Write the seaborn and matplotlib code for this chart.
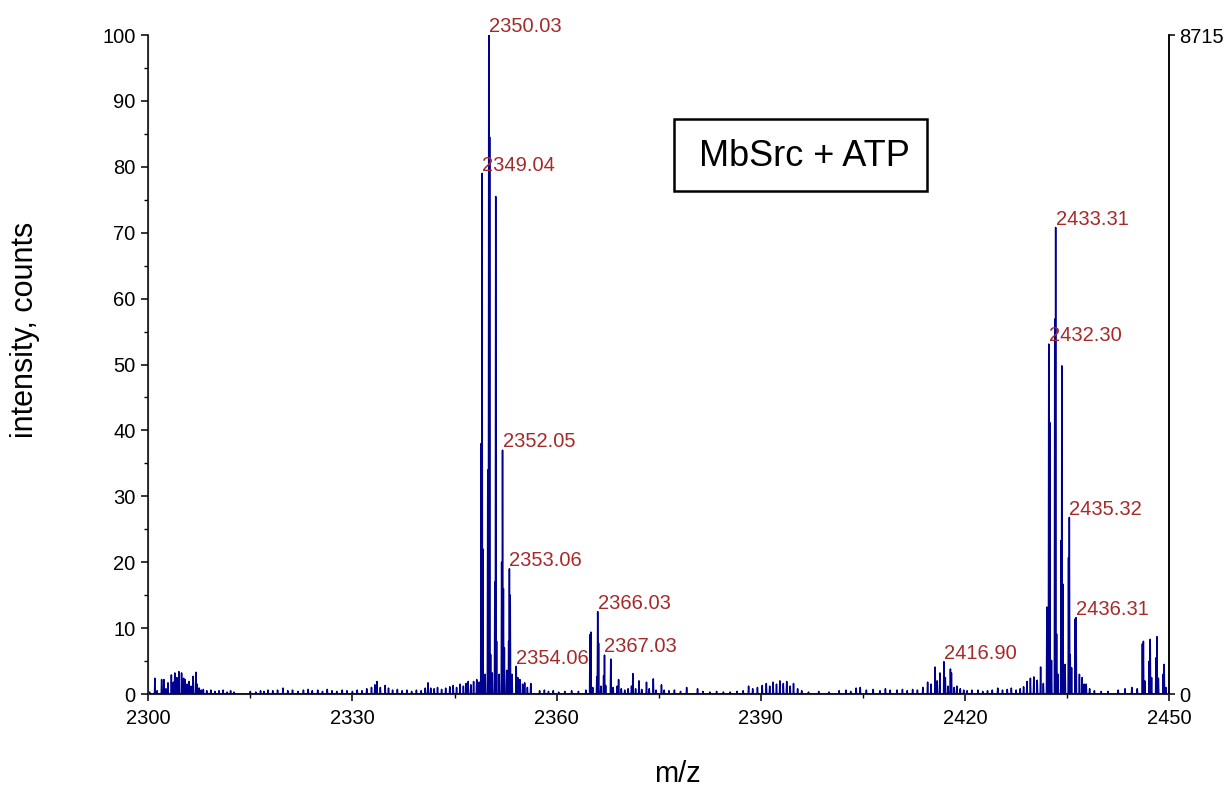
import matplotlib
matplotlib.use('Agg')
import matplotlib.pyplot as plt
from matplotlib.patches import Rectangle
from matplotlib.ticker import MultipleLocator
import numpy as np
import seaborn as sns

# main isotope clusters (m/z, relative intensity)
cluster_2349_mz = [2348.62, 2348.90, 2349.04, 2349.17, 2349.50, 2349.88, 2350.03, 2350.16,
                   2350.30, 2350.55, 2350.92, 2351.05, 2351.18, 2351.55, 2351.92, 2352.05,
                   2352.18, 2352.32, 2352.67, 2352.95, 2353.06, 2353.18, 2353.45, 2354.06,
                   2354.30, 2354.60, 2355.00, 2355.30, 2355.70, 2356.20]
cluster_2349_int = [1.8, 38.0, 79.0, 22.0, 3.0, 34.0, 100.0, 84.5,
                    6.0, 3.2, 17.0, 75.5, 8.0, 3.0, 20.0, 37.0,
                    16.0, 7.0, 3.6, 8.0, 19.0, 15.0, 3.0, 4.2,
                    2.5, 2.2, 1.5, 1.7, 1.0, 1.6]

cluster_2366_mz = [2364.90, 2365.03, 2365.30, 2365.90, 2366.03, 2366.16, 2366.50, 2366.90,
                   2367.03, 2367.20, 2367.95, 2368.30, 2368.90, 2369.10, 2369.50, 2370.00,
                   2370.50, 2371.00, 2371.20, 2371.60, 2372.10, 2372.50, 2373.20, 2373.60,
                   2374.20, 2374.60, 2375.40, 2375.80, 2376.50, 2377.30, 2378.20, 2379.10]
cluster_2366_int = [9.0, 9.4, 1.0, 2.6, 12.5, 7.7, 1.2, 2.8,
                    5.9, 1.3, 5.3, 1.0, 1.2, 2.2, 0.8, 0.6,
                    0.8, 1.2, 3.1, 0.8, 2.0, 0.7, 1.8, 0.8,
                    2.3, 0.6, 1.4, 0.6, 0.5, 0.6, 0.4, 1.0]

cluster_2417_mz = [2414.50, 2415.00, 2415.60, 2415.90, 2416.30, 2416.90, 2417.10, 2417.50,
                   2417.85, 2418.00, 2418.40, 2418.80, 2419.30, 2419.80]
cluster_2417_int = [1.8, 1.5, 4.1, 2.0, 3.2, 4.9, 2.5, 1.2,
                    3.8, 3.2, 1.0, 1.2, 0.8, 0.6]

cluster_2433_mz = [2432.02, 2432.30, 2432.45, 2432.70, 2433.18, 2433.31, 2433.45, 2433.65,
                   2434.10, 2434.22, 2434.37, 2434.70, 2435.20, 2435.32, 2435.45, 2435.65,
                   2436.18, 2436.31, 2436.80, 2437.20, 2437.50, 2437.80, 2438.30]
cluster_2433_int = [13.2, 53.1, 41.2, 5.1, 56.9, 70.8, 9.1, 3.0,
                    23.3, 49.8, 16.7, 4.5, 20.7, 26.8, 6.0, 4.0,
                    11.4, 11.6, 3.0, 2.5, 1.5, 1.5, 0.8]

cluster_2447_mz = [2446.05, 2446.20, 2446.40, 2447.05, 2447.20, 2447.40, 2448.05, 2448.20,
                   2448.40, 2449.10, 2449.25, 2449.50]
cluster_2447_int = [7.6, 8.0, 2.0, 5.0, 8.3, 2.5, 5.5, 8.7,
                    2.4, 3.0, 4.5, 1.0]

# low level noise
noise_mz = [2300.20, 2300.98, 2301.30, 2301.97, 2302.30, 2302.60, 2302.90, 2303.40, 2303.70,
            2303.90, 2304.20, 2304.50, 2304.90, 2305.20, 2305.40, 2305.70, 2306.00, 2306.30,
            2306.60, 2307.00, 2307.20, 2307.50, 2307.80, 2308.10, 2308.60, 2309.20, 2309.80,
            2310.40, 2311.00, 2311.60, 2312.10, 2312.60,
            2315.00, 2315.80, 2316.50, 2317.00, 2317.60, 2318.30, 2319.00, 2319.80, 2320.50,
            2321.20, 2322.00, 2322.80, 2323.50, 2324.10, 2324.90, 2325.60, 2326.30, 2327.00,
            2327.70, 2328.50, 2329.20, 2330.00, 2330.70, 2331.40, 2332.10, 2332.80, 2333.30,
            2333.60, 2334.10, 2334.80, 2335.30, 2335.90, 2336.60, 2337.30, 2338.00, 2338.70,
            2339.40, 2340.10, 2340.70, 2341.10, 2341.50, 2342.00, 2342.50, 2343.10, 2343.70,
            2344.30, 2344.80, 2345.30, 2345.80, 2346.30, 2346.70, 2347.00, 2347.40, 2347.80,
            2348.26,
            2357.50, 2358.20, 2358.80, 2359.50, 2360.30, 2361.20, 2362.20, 2363.20, 2364.30,
            2380.70, 2381.50, 2382.50, 2383.50, 2384.50, 2385.50, 2386.50, 2387.40,
            2388.20, 2388.80, 2389.50, 2390.20, 2390.80, 2391.30, 2391.80, 2392.30, 2392.80,
            2393.30, 2393.80, 2394.30, 2394.80, 2395.40, 2396.00,
            2397.00, 2398.50, 2400.00, 2401.50, 2402.50, 2403.20, 2404.00, 2404.60, 2405.50,
            2406.50, 2407.50, 2408.30, 2409.00, 2410.00, 2410.80, 2411.50, 2412.30, 2413.00,
            2413.80,
            2420.30, 2421.00, 2421.90, 2422.60, 2423.30, 2424.00, 2424.80, 2425.50, 2426.20,
            2426.80, 2427.50, 2428.10, 2428.60, 2429.10, 2429.60, 2430.10, 2430.60, 2431.10,
            2431.50,
            2439.00, 2440.00, 2441.00, 2442.50, 2443.50, 2444.50, 2445.30]
noise_int = [0.3, 2.4, 0.5, 2.2, 2.2, 0.8, 1.7, 2.9, 1.8,
             3.2, 2.5, 3.4, 3.2, 2.4, 2.2, 1.5, 1.9, 1.2,
             2.7, 3.3, 1.5, 0.9, 0.6, 0.7, 0.5, 0.6, 0.4,
             0.5, 0.6, 0.3, 0.5, 0.3,
             0.4, 0.3, 0.5, 0.4, 0.6, 0.5, 0.6, 0.9, 0.5,
             0.6, 0.4, 0.6, 0.7, 0.5, 0.6, 0.4, 0.7, 0.5,
             0.4, 0.6, 0.5, 0.4, 0.6, 0.5, 0.8, 1.0, 1.4,
             1.9, 1.0, 1.3, 0.9, 0.6, 0.7, 0.5, 0.6, 0.4,
             0.6, 0.5, 0.9, 1.7, 0.9, 0.8, 1.0, 0.7, 0.9,
             1.1, 1.3, 1.0, 1.5, 1.2, 1.6, 1.9, 1.4, 1.9,
             2.2,
             0.5, 0.6, 0.4, 0.5, 0.3, 0.4, 0.5, 0.4, 0.6,
             0.8, 0.4, 0.3, 0.4, 0.3, 0.3, 0.4, 0.5,
             1.2, 0.8, 1.0, 1.3, 1.6, 1.2, 1.8, 1.5, 2.0,
             1.6, 1.9, 1.2, 1.6, 0.8, 0.5,
             0.3, 0.4, 0.3, 0.5, 0.6, 0.4, 0.9, 1.0, 0.6,
             0.7, 0.5, 0.8, 0.6, 0.6, 0.7, 0.5, 0.7, 0.6,
             1.0,
             0.5, 0.6, 0.6, 0.4, 0.5, 0.6, 0.9, 0.6, 0.7,
             0.9, 0.6, 0.8, 1.1, 1.9, 2.4, 2.6, 2.1, 4.1,
             1.6,
             0.5, 0.4, 0.4, 0.6, 0.8, 1.0, 0.8]

labelled_peaks = [2350.03, 2349.04, 2352.05, 2353.06, 2354.06, 2366.03, 2367.03,
                  2416.90, 2433.31, 2432.30, 2435.32, 2436.31]

x_major = [2300, 2330, 2360, 2390, 2420, 2450]
x_minor = [2315, 2345, 2375, 2405, 2435]
max_counts = 8715

mz = np.array(cluster_2349_mz + cluster_2366_mz + cluster_2417_mz + cluster_2433_mz
              + cluster_2447_mz + noise_mz)
inten = np.array(cluster_2349_int + cluster_2366_int + cluster_2417_int + cluster_2433_int
                 + cluster_2447_int + noise_int)
order = np.argsort(mz)
mz, inten = mz[order], inten[order]

# each centroid drawn as a narrow profile peak
hw = 0.06
prof_x = np.column_stack([mz - hw, mz, mz + hw]).ravel()
prof_y = np.column_stack([np.zeros_like(inten), inten, np.zeros_like(inten)]).ravel()

sns.set_style('ticks')
plt.rcParams['font.family'] = ['Liberation Sans', 'DejaVu Sans']
plt.rcParams['text.color'] = 'black'
plt.rcParams['axes.labelcolor'] = 'black'

fig = plt.figure(figsize=(12.25, 7.92), dpi=100)
ax = fig.add_axes([0.121, 0.1237, 0.8335, 0.8321])

sns.lineplot(x=prof_x, y=prof_y, sort=False, estimator=None, color='#000090',
             linewidth=1.1, ax=ax)

ax.set_xlim(2300, 2450)
ax.set_ylim(0, 100)
ax.set_xticks(x_major)
ax.set_xticks(x_minor, minor=True)
ax.yaxis.set_major_locator(MultipleLocator(10))
ax.yaxis.set_minor_locator(MultipleLocator(5))
ax.tick_params(which='major', length=5, width=1.1, labelsize=14.5, colors='black', pad=4)
ax.tick_params(axis='x', which='major', pad=6)
ax.tick_params(which='minor', length=3, width=1.0, colors='black')

for side in ['left', 'bottom', 'right']:
    ax.spines[side].set_color('black')
    ax.spines[side].set_linewidth(1.1)
ax.spines['top'].set_visible(False)

ax.set_xlabel('m/z', fontsize=21)
ax.set_ylabel('intensity, counts', fontsize=22)
ax.xaxis.set_label_coords(0.518, -0.100)
ax.yaxis.set_label_coords(-0.106, 0.552)

# right axis in absolute counts
ax2 = ax.twinx()
ax2.set_ylim(0, max_counts)
ax2.set_yticks([0, max_counts])
ax2.tick_params(length=4, width=1.1, labelsize=14.5, pad=3, colors='black')
ax2.spines['top'].set_visible(False)
ax2.spines['right'].set_color('black')
ax2.spines['right'].set_linewidth(1.1)
ax2.grid(False)

for m in labelled_peaks:
    h = inten[np.argmin(np.abs(mz - m))]
    ax.annotate(f'{m:.2f}', xy=(m, h), xytext=(0, 2), textcoords='offset points',
                ha='left', va='baseline', fontsize=14.5, color='#a52a2a',
                annotation_clip=False)

ax.add_patch(Rectangle((0.515, 0.763), 0.248, 0.1095, transform=ax.transAxes,
                       facecolor='white', edgecolor='black', linewidth=1.8, zorder=5))
ax.text(0.643, 0.815, 'MbSrc + ATP', transform=ax.transAxes, fontsize=26,
        ha='center', va='center', color='black', zorder=6)

fig.savefig('out.png', dpi=100)
